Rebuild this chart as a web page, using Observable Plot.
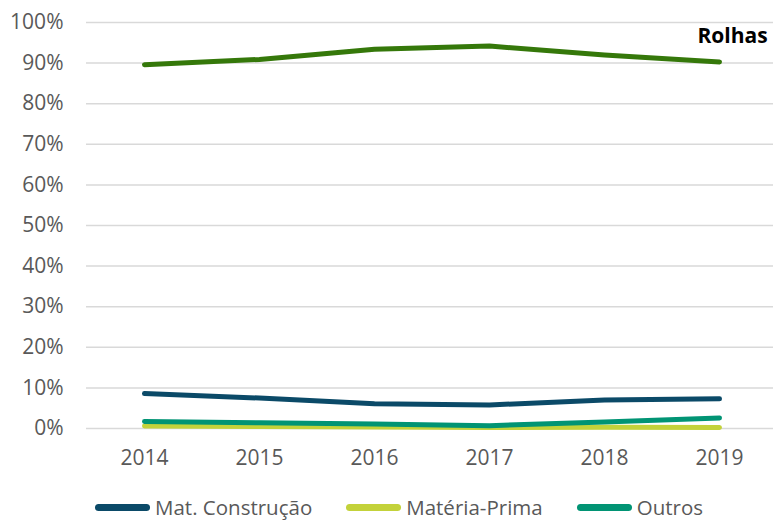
<!DOCTYPE html>
<html>
<head>
<meta charset="utf-8">
<script src="https://cdn.jsdelivr.net/npm/d3@7"></script>
<script src="https://cdn.jsdelivr.net/npm/@observablehq/plot@0.6"></script>
<style>
  html, body { margin: 0; padding: 0; background: #fff; }
  #wrap { width: 773px; height: 522px; position: relative; font-family: "Open Sans", sans-serif; }
  .legend { position: absolute; left: 95px; top: 497px; height: 20px; line-height: 20px; display: flex; gap: 34px; align-items: center; font-size: 20.5px; color: #595959; }
  .item { display: flex; align-items: center; gap: 5px; line-height: 20px; }
  .sw { width: 55px; height: 7px; border-radius: 4px; display: inline-block; }
</style>
</head>
<body>
<div id="wrap"></div>
<script>
const years = ["2014", "2015", "2016", "2017", "2018", "2019"];
const seriesNames = ["Rolhas", "Mat. Construção", "Matéria-Prima", "Outros"];
const rolhas = [89.6, 90.9, 93.4, 94.2, 92.0, 90.3];
const matConstrucao = [8.6, 7.5, 6.1, 5.8, 7.0, 7.3];
const materiaPrima = [0.6, 0.5, 0.35, 0.25, 0.3, 0.25];
const outros = [1.7, 1.4, 1.1, 0.7, 1.6, 2.6];
const colors = ["#35780a", "#0b4a68", "#c3d23a", "#019474"];
const yTicks = [0, 10, 20, 30, 40, 50, 60, 70, 80, 90, 100];
const labelText = "Rolhas";
const labelYear = "2019";
const labelValue = 96.7;

const allValues = [rolhas, matConstrucao, materiaPrima, outros];
const data = [];
seriesNames.forEach((s, i) => years.forEach((y, j) => data.push({series: s, year: y, value: allValues[i][j]})));

const chart = Plot.plot({
  width: 773,
  height: 488,
  marginTop: 22,
  marginBottom: 60,
  marginLeft: 86,
  marginRight: 0,
  style: { fontFamily: "'Open Sans', sans-serif", fontSize: "21px", color: "#595959", background: "#fff", display: "block" },
  x: { type: "point", domain: years, range: [143.6, 719.4], padding: 0, label: null },
  y: { domain: [0, 100], label: null },
  color: { domain: seriesNames, range: colors },
  marks: [
    Plot.gridY(yTicks, { stroke: "#d9d9d9", strokeOpacity: 1, strokeWidth: 1.5 }),
    Plot.axisY(yTicks, { tickSize: 0, tickPadding: 23, tickFormat: d => d + "%", fill: "#595959", fontSize: 21 }),
    Plot.axisX(years, { tickSize: 0, tickPadding: 22, fill: "#595959", fontSize: 21 }),
    Plot.line(data, { x: "year", y: "value", z: "series", stroke: "series", strokeWidth: 5, strokeLinecap: "round", strokeLinejoin: "round", curve: "linear" }),
    Plot.text([{year: labelYear, value: labelValue, t: labelText}], { x: "year", y: "value", text: "t", dx: 13, fontWeight: "bold", fontSize: 21, fill: "#000" })
  ]
});

const wrap = document.getElementById("wrap");
wrap.appendChild(chart);
const legend = document.createElement("div");
legend.className = "legend";
[1, 2, 3].forEach(i => {
  const it = document.createElement("div");
  it.className = "item";
  const sw = document.createElement("span");
  sw.className = "sw";
  sw.style.background = colors[i];
  const tx = document.createElement("span");
  tx.textContent = seriesNames[i];
  it.appendChild(sw); it.appendChild(tx);
  legend.appendChild(it);
});
wrap.appendChild(legend);
</script>
</body>
</html>
